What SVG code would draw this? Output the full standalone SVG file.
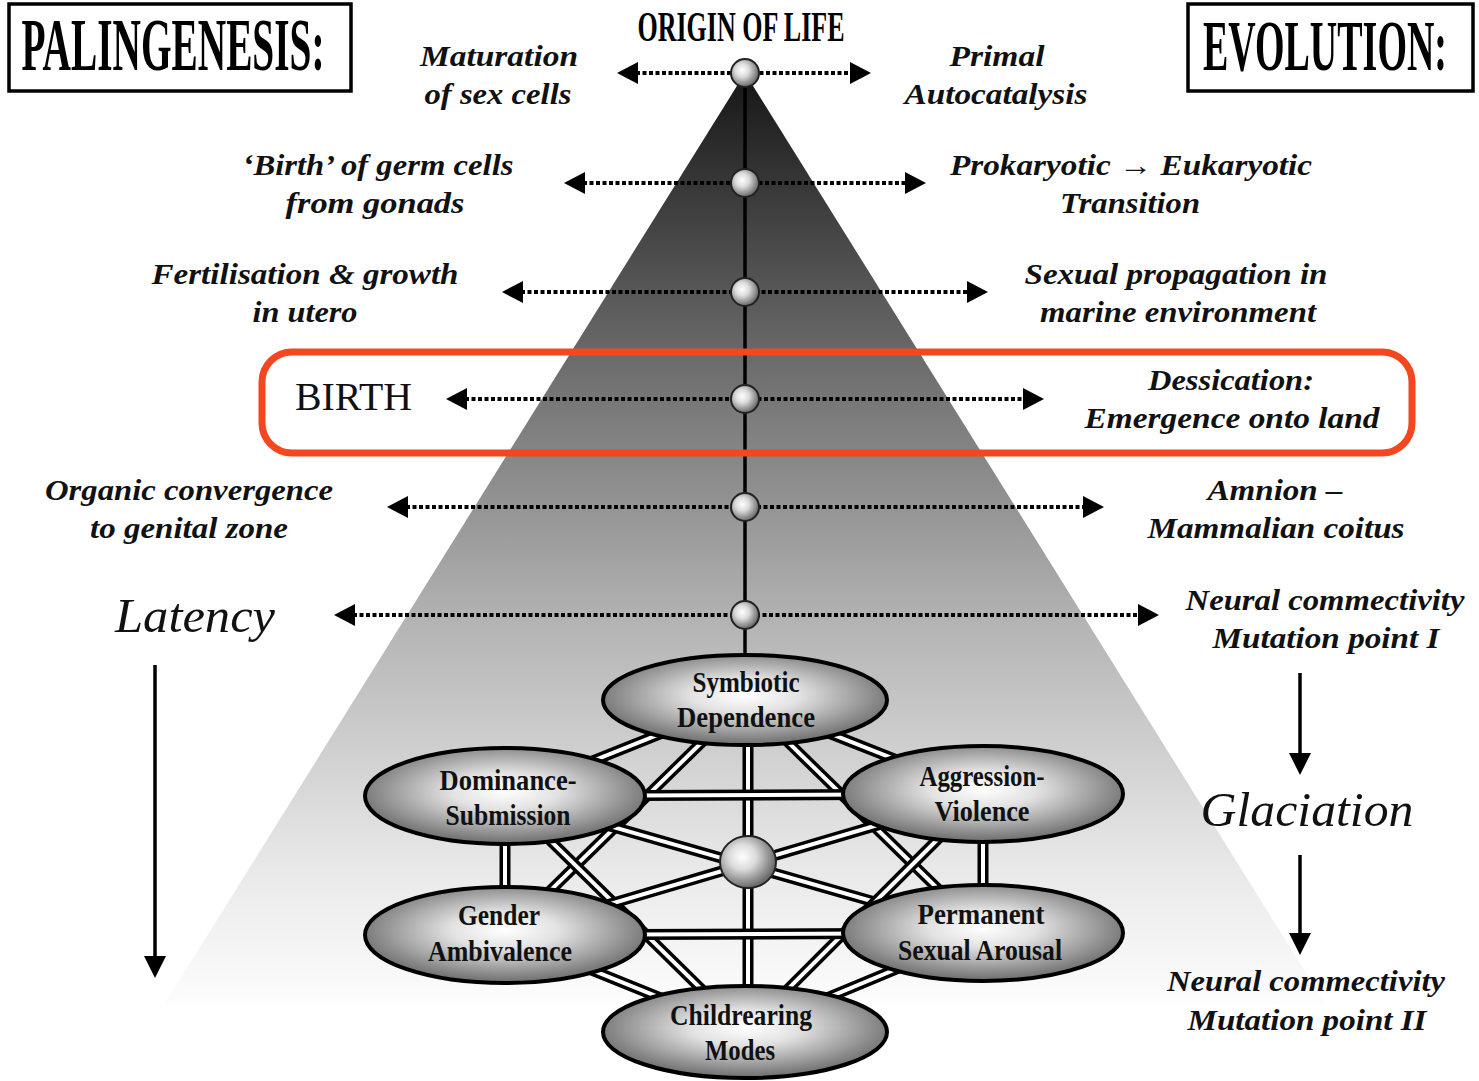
<svg xmlns="http://www.w3.org/2000/svg" width="1479" height="1081" viewBox="0 0 1479 1081">
<defs>
<linearGradient id="pyr" x1="0" y1="73" x2="0" y2="1005" gradientUnits="userSpaceOnUse">
<stop offset="0" stop-color="#161616"/>
<stop offset="0.35" stop-color="#777777"/>
<stop offset="0.6" stop-color="#b6b6b6"/>
<stop offset="0.85" stop-color="#e8e8e8"/>
<stop offset="1" stop-color="#fdfdfd"/>
</linearGradient>
<radialGradient id="ell" cx="0.5" cy="0.45" r="0.55">
<stop offset="0" stop-color="#ffffff"/>
<stop offset="0.35" stop-color="#e2e2e2"/>
<stop offset="1" stop-color="#6c6c6c"/>
</radialGradient>
<radialGradient id="ball" cx="0.4" cy="0.4" r="0.6">
<stop offset="0" stop-color="#ffffff"/>
<stop offset="0.4" stop-color="#dcdcdc"/>
<stop offset="1" stop-color="#6a6a6a"/>
</radialGradient>
<marker id="ah" markerUnits="userSpaceOnUse" markerWidth="22" markerHeight="24" refX="2" refY="11" orient="auto-start-reverse" viewBox="0 0 22 24">
<path d="M0,0 L21,11 L0,22 z" fill="#000"/>
</marker>
<marker id="ahv" markerUnits="userSpaceOnUse" markerWidth="24" markerHeight="24" refX="2" refY="11" orient="auto" viewBox="0 0 24 24">
<path d="M0,0 L22,11 L0,22 z" fill="#000"/>
</marker>
<style>
.dot{stroke:#000;stroke-width:4;stroke-dasharray:4 2.5;fill:none}
.solid{stroke:#000;stroke-width:3.5;fill:none}
.dbl-o{stroke:#000;stroke-width:11;fill:none}
.dbl-i{stroke:#fff;stroke-width:4;fill:none}
.node ellipse.main{fill:url(#ell);stroke:#000;stroke-width:4}
.sph{fill:url(#ball);stroke:#222;stroke-width:2}
.lab{font-family:"Liberation Serif",serif;font-style:italic;font-weight:bold;font-size:29px;fill:#111;text-anchor:middle}
.big{font-family:"Liberation Serif",serif;font-style:italic;font-size:48px;fill:#111;text-anchor:middle}
.heavy{font-family:"Liberation Serif",serif;font-weight:bold;fill:#000;text-anchor:middle}
.nt{font-family:"Liberation Serif",serif;font-weight:bold;font-size:30px;fill:#111;text-anchor:middle}
</style>
</defs>
<rect width="1479" height="1081" fill="#fff"/>
<g id="pyramid">
<polygon points="745,73 164,1005 1326,1005" fill="url(#pyr)"/>
</g>
<g id="connectors">
<line x1="745" y1="73" x2="745" y2="660" stroke="#000" stroke-width="3.5"/>
<line class="dot" x1="636" y1="73" x2="852" y2="73" marker-start="url(#ah)" marker-end="url(#ah)"/>
<line class="dot" x1="583" y1="183" x2="907" y2="183" marker-start="url(#ah)" marker-end="url(#ah)"/>
<line class="dot" x1="521" y1="292" x2="969" y2="292" marker-start="url(#ah)" marker-end="url(#ah)"/>
<line class="dot" x1="465" y1="399" x2="1025" y2="399" marker-start="url(#ah)" marker-end="url(#ah)"/>
<line class="dot" x1="406" y1="507" x2="1085" y2="507" marker-start="url(#ah)" marker-end="url(#ah)"/>
<line class="dot" x1="353" y1="615" x2="1140" y2="615" marker-start="url(#ah)" marker-end="url(#ah)"/>
<line class="solid" x1="155" y1="665" x2="155" y2="958" marker-end="url(#ahv)"/>
<line class="solid" x1="1300" y1="673" x2="1300" y2="755" marker-end="url(#ahv)"/>
<line class="solid" x1="1300" y1="855" x2="1300" y2="935" marker-end="url(#ahv)"/>
<g id="network">
<line class="dbl-o" x1="745" y1="700" x2="505" y2="796"/><line class="dbl-i" x1="745" y1="700" x2="505" y2="796"/>
<line class="dbl-o" x1="745" y1="700" x2="983" y2="794"/><line class="dbl-i" x1="745" y1="700" x2="983" y2="794"/>
<line class="dbl-o" x1="745" y1="700" x2="505" y2="935"/><line class="dbl-i" x1="745" y1="700" x2="505" y2="935"/>
<line class="dbl-o" x1="745" y1="700" x2="983" y2="933"/><line class="dbl-i" x1="745" y1="700" x2="983" y2="933"/>
<line class="dbl-o" x1="748" y1="700" x2="748" y2="1032"/><line class="dbl-i" x1="748" y1="700" x2="748" y2="1032"/>
<line class="dbl-o" x1="505" y1="796" x2="983" y2="794"/><line class="dbl-i" x1="505" y1="796" x2="983" y2="794"/>
<line class="dbl-o" x1="505" y1="796" x2="505" y2="935"/><line class="dbl-i" x1="505" y1="796" x2="505" y2="935"/>
<line class="dbl-o" x1="505" y1="796" x2="983" y2="933"/><line class="dbl-i" x1="505" y1="796" x2="983" y2="933"/>
<line class="dbl-o" x1="505" y1="796" x2="745" y2="1032"/><line class="dbl-i" x1="505" y1="796" x2="745" y2="1032"/>
<line class="dbl-o" x1="983" y1="794" x2="505" y2="935"/><line class="dbl-i" x1="983" y1="794" x2="505" y2="935"/>
<line class="dbl-o" x1="983" y1="794" x2="983" y2="933"/><line class="dbl-i" x1="983" y1="794" x2="983" y2="933"/>
<line class="dbl-o" x1="983" y1="794" x2="745" y2="1032"/><line class="dbl-i" x1="983" y1="794" x2="745" y2="1032"/>
<line class="dbl-o" x1="505" y1="935" x2="983" y2="933"/><line class="dbl-i" x1="505" y1="935" x2="983" y2="933"/>
<line class="dbl-o" x1="505" y1="935" x2="745" y2="1032"/><line class="dbl-i" x1="505" y1="935" x2="745" y2="1032"/>
<line class="dbl-o" x1="983" y1="933" x2="745" y2="1032"/><line class="dbl-i" x1="983" y1="933" x2="745" y2="1032"/>
</g>
</g>
<g id="timeline-nodes">
<circle class="sph" cx="745" cy="73" r="14"/>
<circle class="sph" cx="745" cy="183" r="14"/>
<circle class="sph" cx="745" cy="292" r="14"/>
<circle class="sph" cx="745" cy="399" r="14"/>
<circle class="sph" cx="745" cy="507" r="14"/>
<circle class="sph" cx="745" cy="615" r="14"/>
</g>
<g id="center-node"><ellipse class="sph" cx="748" cy="862" rx="28" ry="26" stroke-width="1.5"/></g>
<g id="node-symbiotic" class="node"><ellipse class="main" cx="745" cy="700" rx="142" ry="45"/>
<text class="nt" x="746" y="692" textLength="107" lengthAdjust="spacingAndGlyphs">Symbiotic</text>
<text class="nt" x="746" y="727" textLength="138" lengthAdjust="spacingAndGlyphs">Dependence</text></g>
<g id="node-dominance" class="node"><ellipse class="main" cx="505" cy="796" rx="140" ry="48"/>
<text class="nt" x="508" y="790" textLength="137" lengthAdjust="spacingAndGlyphs">Dominance-</text>
<text class="nt" x="508" y="825" textLength="125" lengthAdjust="spacingAndGlyphs">Submission</text></g>
<g id="node-aggression" class="node"><ellipse class="main" cx="983" cy="794" rx="140" ry="48"/>
<text class="nt" x="982" y="786" textLength="125" lengthAdjust="spacingAndGlyphs">Aggression-</text>
<text class="nt" x="982" y="821" textLength="95" lengthAdjust="spacingAndGlyphs">Violence</text></g>
<g id="node-gender" class="node"><ellipse class="main" cx="505" cy="935" rx="140" ry="48"/>
<text class="nt" x="499" y="925" textLength="82" lengthAdjust="spacingAndGlyphs">Gender</text>
<text class="nt" x="500" y="961" textLength="144" lengthAdjust="spacingAndGlyphs">Ambivalence</text></g>
<g id="node-permanent" class="node"><ellipse class="main" cx="983" cy="933" rx="140" ry="48"/>
<text class="nt" x="981" y="924" textLength="127" lengthAdjust="spacingAndGlyphs">Permanent</text>
<text class="nt" x="980" y="960" textLength="164" lengthAdjust="spacingAndGlyphs">Sexual Arousal</text></g>
<g id="node-childrearing" class="node"><ellipse class="main" cx="745" cy="1032" rx="142" ry="46"/>
<text class="nt" x="741" y="1025" textLength="142" lengthAdjust="spacingAndGlyphs">Childrearing</text>
<text class="nt" x="740" y="1060" textLength="70" lengthAdjust="spacingAndGlyphs">Modes</text></g>
<g id="birth-highlight"><rect x="262" y="352" width="1150" height="101" rx="30" fill="none" stroke="#f4461f" stroke-width="7"/></g>
<g id="title-palingenesis"><rect x="9" y="4" width="342" height="87" fill="#fff" stroke="#000" stroke-width="3.5"/>
<text class="heavy" transform="translate(173,70) scale(1,1.9)" font-size="39" textLength="303" lengthAdjust="spacingAndGlyphs">PALINGENESIS:</text></g>
<g id="title-evolution"><rect x="1188" y="4" width="285" height="87" fill="#fff" stroke="#000" stroke-width="3.5"/>
<text class="heavy" transform="translate(1325,70) scale(1,1.9)" font-size="38" textLength="244" lengthAdjust="spacingAndGlyphs">EVOLUTION:</text></g>
<g id="origin"><text class="heavy" transform="translate(741,41) scale(1,1.7)" font-size="25" textLength="207" lengthAdjust="spacingAndGlyphs">ORIGIN OF LIFE</text></g>
<g id="labels-left">
<text class="lab" x="499" y="66" textLength="158" lengthAdjust="spacingAndGlyphs">Maturation</text>
<text class="lab" x="498" y="104" textLength="147" lengthAdjust="spacingAndGlyphs">of sex cells</text>
<text class="lab" x="378" y="175" textLength="271" lengthAdjust="spacingAndGlyphs">‘Birth’ of germ cells</text>
<text class="lab" x="375" y="213" textLength="179" lengthAdjust="spacingAndGlyphs">from gonads</text>
<text class="lab" x="305" y="284" textLength="307" lengthAdjust="spacingAndGlyphs">Fertilisation &amp; growth</text>
<text class="lab" x="305" y="322" textLength="105" lengthAdjust="spacingAndGlyphs">in utero</text>
<text x="295" y="410" font-family="Liberation Serif, serif" font-size="40" fill="#111" textLength="117" lengthAdjust="spacingAndGlyphs">BIRTH</text>
<text class="lab" x="189" y="500" textLength="288" lengthAdjust="spacingAndGlyphs">Organic convergence</text>
<text class="lab" x="189" y="538" textLength="198" lengthAdjust="spacingAndGlyphs">to genital zone</text>
<text class="big" x="195" y="632" textLength="160" lengthAdjust="spacingAndGlyphs">Latency</text>
</g>
<g id="labels-right">
<text class="lab" x="997" y="66" textLength="95" lengthAdjust="spacingAndGlyphs">Primal</text>
<text class="lab" x="996" y="104" textLength="183" lengthAdjust="spacingAndGlyphs">Autocatalysis</text>
<text class="lab" x="1131" y="175" textLength="362" lengthAdjust="spacingAndGlyphs">Prokaryotic → Eukaryotic</text>
<text class="lab" x="1130" y="213" textLength="140" lengthAdjust="spacingAndGlyphs">Transition</text>
<text class="lab" x="1176" y="284" textLength="303" lengthAdjust="spacingAndGlyphs">Sexual propagation in</text>
<text class="lab" x="1178" y="322" textLength="276" lengthAdjust="spacingAndGlyphs">marine environment</text>
<text class="lab" x="1231" y="390" textLength="166" lengthAdjust="spacingAndGlyphs">Dessication:</text>
<text class="lab" x="1232" y="428" textLength="295" lengthAdjust="spacingAndGlyphs">Emergence  onto land</text>
<text class="lab" x="1275" y="500" textLength="135" lengthAdjust="spacingAndGlyphs">Amnion –</text>
<text class="lab" x="1276" y="538" textLength="257" lengthAdjust="spacingAndGlyphs">Mammalian coitus</text>
<text class="lab" x="1325" y="610" textLength="279" lengthAdjust="spacingAndGlyphs">Neural commectivity</text>
<text class="lab" x="1326" y="648" textLength="227" lengthAdjust="spacingAndGlyphs">Mutation point I</text>
<text class="big" x="1307" y="826" textLength="213" lengthAdjust="spacingAndGlyphs">Glaciation</text>
<text class="lab" x="1306" y="991" textLength="278" lengthAdjust="spacingAndGlyphs">Neural commectivity</text>
<text class="lab" x="1307" y="1030" textLength="239" lengthAdjust="spacingAndGlyphs">Mutation point II</text>
</g>
</svg>
